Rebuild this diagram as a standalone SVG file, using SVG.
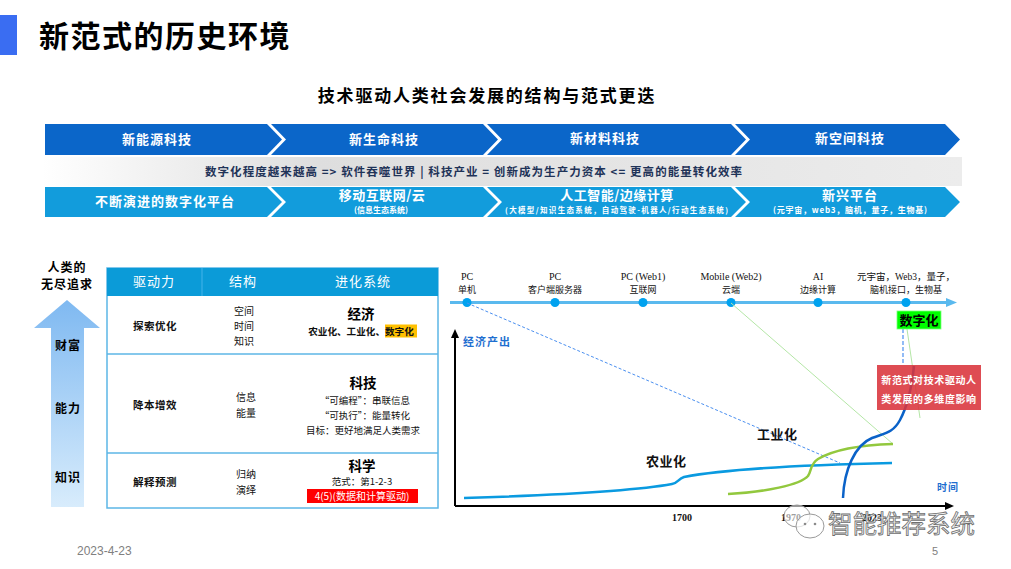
<svg xmlns="http://www.w3.org/2000/svg" width="1011" height="569" viewBox="0 0 1011 569">
<defs>
<style>
.cjk{font-family:"Noto Sans CJK SC","Noto Sans",sans-serif;}
.b{font-weight:bold;}
.mix{font-family:"Liberation Serif","Noto Sans CJK SC",serif;}
.wt{fill:#ffffff;}
.c{text-anchor:middle;}
.top{fill:#0b66c9;}
.bot{fill:#129cdc;}
.cell{font-size:10px;fill:#111;}
</style>
<linearGradient id="band" x1="0" y1="0" x2="1" y2="0">
<stop offset="0" stop-color="#ffffff"/>
<stop offset="0.3" stop-color="#dedede"/>
<stop offset="1" stop-color="#ececec"/>
</linearGradient>
<linearGradient id="upArrow" x1="0" y1="0" x2="0" y2="1">
<stop offset="0" stop-color="#7fb9f1"/>
<stop offset="1" stop-color="#d8ecfc"/>
</linearGradient>
</defs>
<rect width="1011" height="569" fill="#ffffff"/>

<!-- Title -->
<g id="title">
<rect x="0" y="15" width="17" height="40" fill="#3a6df2"/>
<text x="39" y="47" class="cjk b" font-size="30" letter-spacing="1.5" fill="#000">新范式的历史环境</text>
</g>
<g id="subtitle">
<text x="487" y="102" class="cjk b c" font-size="17" letter-spacing="1.8" fill="#000">技术驱动人类社会发展的结构与范式更迭</text>
</g>

<!-- Top row chevrons -->
<g id="top-row">
<path class="top" d="M45,124 H267 L282,139.5 L267,155 H45 Z"/>
<path class="top" d="M271,124 H483 L498,139.5 L483,155 H271 L286,139.5 Z"/>
<path class="top" d="M487,124 H731 L746,139.5 L731,155 H487 L502,139.5 Z"/>
<path class="top" d="M735,124 H945 L960,139.5 L945,155 H735 L750,139.5 Z"/>
<text x="157" y="144" class="cjk b c wt" font-size="13" letter-spacing="1">新能源科技</text>
<text x="384" y="144" class="cjk b c wt" font-size="13" letter-spacing="1">新生命科技</text>
<text x="605" y="143" class="cjk b c wt" font-size="13" letter-spacing="1">新材料科技</text>
<text x="850" y="143" class="cjk b c wt" font-size="13" letter-spacing="1">新空间科技</text>
</g>

<!-- Middle band -->
<g id="middle-band">
<rect x="42" y="157" width="920" height="29" fill="url(#band)"/>
<text x="205" y="176" class="cjk b" font-size="11.5" fill="#1f3358" textLength="537" lengthAdjust="spacing">数字化程度越来越高 =&gt; 软件吞噬世界 | 科技产业 = 创新成为生产力资本   &lt;= 更高的能量转化效率</text>
</g>

<!-- Bottom row chevrons -->
<g id="bottom-row">
<path class="bot" d="M45,187 H267 L282,202 L267,217 H45 Z"/>
<path class="bot" d="M271,187 H483 L498,202 L483,217 H271 L286,202 Z"/>
<path class="bot" d="M487,187 H731 L746,202 L731,217 H487 L502,202 Z"/>
<path class="bot" d="M735,187 H945 L960,202 L945,217 H735 L750,202 Z"/>
<text x="165" y="206" class="cjk b c wt" font-size="13" letter-spacing="1">不断演进的数字化平台</text>
<text x="382" y="200" class="cjk b c wt" font-size="13" letter-spacing="0.5">移动互联网/云</text>
<text x="381" y="213" class="cjk b c wt" font-size="8">(信息生态系统)</text>
<text x="617" y="200" class="cjk b c wt" font-size="13" letter-spacing="0.5">人工智能/边缘计算</text>
<text x="505" y="213" class="cjk b wt" font-size="7.5" textLength="223" lengthAdjust="spacing">(大模型/知识生态系统，自动驾驶-机器人/行动生态系统)</text>
<text x="850" y="200" class="cjk b c wt" font-size="13" letter-spacing="1">新兴平台</text>
<text x="773" y="213" class="cjk b wt" font-size="8" textLength="154" lengthAdjust="spacing">(元宇宙，web3，脑机，量子，生物基)</text>
</g>

<!-- Left: human pursuit arrow -->
<g id="pursuit">
<text x="67" y="272" class="cjk b c" font-size="12" letter-spacing="1" fill="#000">人类的</text>
<text x="67" y="289" class="cjk b c" font-size="12" letter-spacing="1" fill="#000">无尽追求</text>
<polygon points="67,300 100,328 84,328 84,507 51,507 51,328 34,328" fill="url(#upArrow)"/>
<text x="68" y="350" class="cjk b c" font-size="12" letter-spacing="1" fill="#000">财富</text>
<text x="68" y="413" class="cjk b c" font-size="12" letter-spacing="1" fill="#000">能力</text>
<text x="68" y="482" class="cjk b c" font-size="12" letter-spacing="1" fill="#000">知识</text>
</g>

<!-- Table -->
<g id="table">
<rect x="107" y="268" width="331" height="240" fill="#ffffff" stroke="#5cb6e6" stroke-width="1.5"/>
<rect x="107" y="268" width="331" height="28" fill="#0b9bd8"/>
<line x1="202" y1="268" x2="202" y2="296" stroke="#45b3ea" stroke-width="1"/>
<line x1="107" y1="354" x2="438" y2="354" stroke="#5cb6e6" stroke-width="1.5"/>
<line x1="107" y1="453" x2="438" y2="453" stroke="#5cb6e6" stroke-width="1.5"/>
<text x="154" y="286" class="cjk c wt" font-size="13" letter-spacing="1">驱动力</text>
<text x="243" y="286" class="cjk c wt" font-size="13" letter-spacing="1">结构</text>
<text x="363" y="286" class="cjk c wt" font-size="13" letter-spacing="1">进化系统</text>
</g>
<g id="row-economy">
<text x="155" y="330" class="cjk b c" font-size="10.5" letter-spacing="0.5" fill="#111">探索优化</text>
<text x="244" y="315" class="cjk c cell">空间</text>
<text x="244" y="330" class="cjk c cell">时间</text>
<text x="244" y="345" class="cjk c cell">知识</text>
<text x="361" y="319" class="cjk b c" font-size="13.5" fill="#000">经济</text>
<rect x="385" y="324.5" width="32" height="13" fill="#ffc000"/>
<text x="361" y="335" class="cjk b c" font-size="9.6" fill="#111">农业化、工业化、数字化</text>
</g>
<g id="row-tech">
<text x="155" y="409" class="cjk b c" font-size="10.5" letter-spacing="0.5" fill="#111">降本增效</text>
<text x="236" y="401" class="cjk cell">信息</text>
<text x="236" y="417" class="cjk cell">能量</text>
<text x="363" y="388" class="cjk b c" font-size="13.5" fill="#000">科技</text>
<text x="365" y="404" class="cjk c" font-size="9.5" fill="#111">“可编程”：串联信息</text>
<text x="365" y="419" class="cjk c" font-size="9.5" fill="#111">“可执行”：能量转化</text>
<text x="363" y="434" class="cjk c" font-size="9.5" fill="#111">目标：更好地满足人类需求</text>
</g>
<g id="row-science">
<text x="155" y="486" class="cjk b c" font-size="10.5" letter-spacing="0.5" fill="#111">解释预测</text>
<text x="236" y="478" class="cjk cell">归纳</text>
<text x="236" y="494" class="cjk cell">演绎</text>
<text x="362" y="471" class="cjk b c" font-size="13.5" fill="#000">科学</text>
<text x="362" y="485" class="cjk c" font-size="9.5" fill="#111">范式：第1-2-3</text>
<rect x="307" y="489" width="111" height="14" fill="#ff0000"/>
<text x="362" y="500" class="cjk c wt" font-size="10">4(5)(数据和计算驱动)</text>
</g>

<!-- Timeline -->
<g id="timeline">
<line x1="450" y1="302.5" x2="948" y2="302.5" stroke="#5ab9ee" stroke-width="3"/>
<polygon points="946,298 957,302.5 946,307" fill="#5ab9ee"/>
<g fill="#00a2ef">
<circle cx="467" cy="302.5" r="4.5"/>
<circle cx="555" cy="302.5" r="4.5"/>
<circle cx="643" cy="302.5" r="4.5"/>
<circle cx="731" cy="302.5" r="4.5"/>
<circle cx="818" cy="302.5" r="4.5"/>
<circle cx="906" cy="302.5" r="4.5"/>
</g>
<g class="mix c" font-size="10" fill="#111">
<text x="467" y="280">PC</text>
<text x="467" y="293" font-size="9">单机</text>
<text x="555" y="280">PC</text>
<text x="555" y="293" font-size="9">客户端服务器</text>
<text x="643" y="280">PC (Web1)</text>
<text x="643" y="293" font-size="9">互联网</text>
<text x="731" y="280">Mobile (Web2)</text>
<text x="731" y="293" font-size="9">云端</text>
<text x="818" y="280">AI</text>
<text x="818" y="293" font-size="9">边缘计算</text>
<text x="906" y="280" font-size="9.5">元宇宙，Web3，量子，</text>
<text x="906" y="293" font-size="9">脑机接口，生物基</text>
</g>
</g>

<!-- Chart connectors -->
<g id="connectors">
<line x1="467" y1="303" x2="840" y2="463" stroke="#4a8ff0" stroke-width="1" stroke-dasharray="3 2"/>
<line x1="731" y1="303" x2="893" y2="444" stroke="#b4e6a6" stroke-width="1"/>
<line x1="903" y1="329" x2="903" y2="365" stroke="#4a8ff0" stroke-width="1.2" stroke-dasharray="4 2"/>
<line x1="907" y1="329" x2="920" y2="418" stroke="#b4e6a6" stroke-width="1"/>
</g>
<g id="chart">
<line x1="455" y1="506" x2="455" y2="337" stroke="#000" stroke-width="2"/>
<polygon points="451,338 455,329 459,338" fill="#000"/>
<line x1="455" y1="506" x2="946" y2="506" stroke="#000" stroke-width="2"/>
<polygon points="945,502 954,506 945,510" fill="#000"/>
<text x="463" y="346" class="cjk b" font-size="11" letter-spacing="1" fill="#1f6fd0">经济产出</text>
<text x="937" y="491" class="cjk b" font-size="10" letter-spacing="1" fill="#1f6fd0">时间</text>
<path d="M464,498 C560,495 640,490 672,484 C678,483 678,479 684,477 C720,470 800,465 892,463" fill="none" stroke="#0a9ae0" stroke-width="2.5"/>
<path d="M728,494 C765,492 800,485 808,476 C812,470 810,464 818,459 C835,449 860,445 893,444" fill="none" stroke="#92c83e" stroke-width="2.5"/>
<path d="M843,498 C844,470 855,445 872,438 C885,433 893,433 900,420 C908,405 912,385 914,366" fill="none" stroke="#0a62c8" stroke-width="2.5"/>
<text x="757" y="439" class="cjk b" font-size="13" letter-spacing="0.5" fill="#111">工业化</text>
<text x="646" y="466" class="cjk b" font-size="13" letter-spacing="0.5" fill="#111">农业化</text>
<text x="682" y="521" class="mix b c" font-size="10" fill="#111">1700</text>
<text x="791" y="521" class="mix b c" font-size="10" fill="#111">1970</text>
<text x="872" y="521" class="mix b c" font-size="10" fill="#111">2023</text>
</g>

<g id="digital-tag">
<rect x="897" y="311" width="44" height="18" fill="#00ff00" stroke="#7dff7d" stroke-width="0.8"/>
<text x="919" y="325" class="cjk b c" font-size="13" fill="#000">数字化</text>
</g>

<g id="paradigm-note">
<rect x="877" y="365" width="104" height="45" fill="#d9333b" opacity="0.88"/>
<text x="929" y="384" class="cjk b c wt" font-size="10" letter-spacing="0.6">新范式对技术驱动人</text>
<text x="929" y="403" class="cjk b c wt" font-size="10" letter-spacing="0.6">类发展的多维度影响</text>
</g>

<!-- Watermark -->
<g id="watermark">
<ellipse cx="797" cy="516" rx="13" ry="11" fill="#ffffff" fill-opacity="0.6" stroke="#9a9a9a" stroke-width="1"/>
<ellipse cx="810" cy="526" rx="14" ry="12" fill="#ffffff" fill-opacity="0.7" stroke="#9a9a9a" stroke-width="1"/>
<circle cx="805" cy="524" r="1.3" fill="#8a8a8a"/>
<circle cx="815" cy="524" r="1.3" fill="#8a8a8a"/>
<text x="828" y="533" class="cjk" font-size="24.5" fill="#f4f4f4" stroke="#6e6e6e" stroke-width="0.8">智能推荐系统</text>
</g>

<!-- Footer -->
<g id="footer">
<text x="77" y="555" font-family="Liberation Sans, sans-serif" font-size="12" fill="#808080">2023-4-23</text>
<text x="932" y="555" font-family="Liberation Sans, sans-serif" font-size="11" fill="#808080">5</text>
</g>
</svg>
